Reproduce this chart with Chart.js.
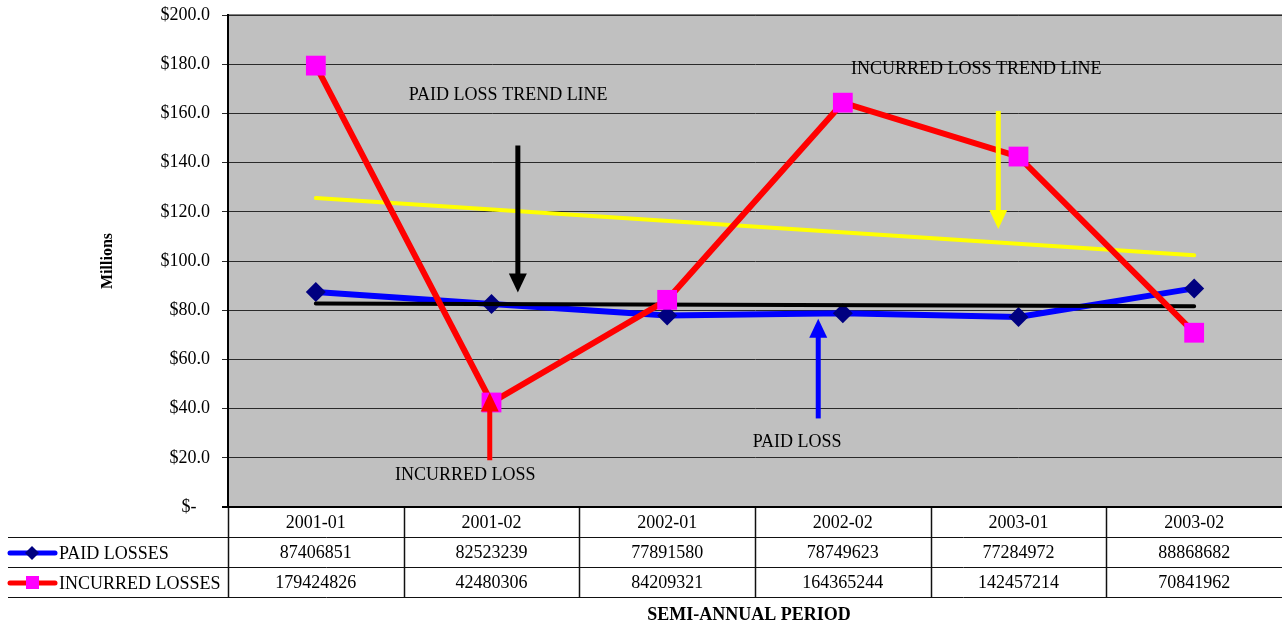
<!DOCTYPE html>
<html>
<head>
<meta charset="utf-8">
<script src="https://cdn.jsdelivr.net/npm/chart.js@4/dist/chart.umd.min.js"></script>
<style>
  html, body { margin: 0; padding: 0; background: #fff; overflow: hidden; }
  #lossChart { display: block; }
</style>
</head>
<body>
<canvas id="lossChart" width="1282" height="627"></canvas>
<script>
(function () {
  "use strict";

  // periods and raw table values
  const PERIODS = ["2001-01", "2001-02", "2002-01", "2002-02", "2003-01", "2003-02"];
  const PAID_LOSSES = [87406851, 82523239, 77891580, 78749623, 77284972, 88868682];
  const INCURRED_LOSSES = [179424826, 42480306, 84209321, 164365244, 142457214, 70841962];
  // trend lines (millions), endpoints only
  const PAID_TREND = [82.7, null, null, null, null, 81.6];
  const INCURRED_TREND = [125.6, null, null, null, null, 102.3];
  const Y_TICKS = [0, 20, 40, 60, 80, 100, 120, 140, 160, 180, 200];

  const SERIF = "'Liberation Serif', 'Times New Roman', serif";
  const toMillions = (arr) => arr.map((v) => v / 1e6);

  // callouts: [text, category position, value]
  const NOTES = [
    ["PAID LOSS TREND LINE", 1.095, 167.2],
    ["INCURRED LOSS TREND LINE", 3.76, 178.0],
    ["PAID LOSS", 2.74, 26.4],
    ["INCURRED LOSS", 0.85, 13.0]
  ];
  // arrows: [colour, category position, from value, to value (tip)]
  const ARROWS = [
    ["#000000", 1.15, 147.0, 87.2],
    ["#ffff00", 3.885, 161.0, 113.0],
    ["#0000ff", 2.86, 36.0, 76.5],
    ["#ff0000", 0.99, 19.0, 46.5]
  ];

  const noPad = (s) => { s.paddingTop = 0; s.paddingBottom = 0; s.paddingLeft = 0; s.paddingRight = 0; };

  const plotBg = {
    id: "plotBg",
    beforeDraw(chart) {
      const a = chart.chartArea, c = chart.ctx;
      c.save();
      c.fillStyle = "#c0c0c0";
      c.fillRect(a.left, a.top, a.right - a.left, a.bottom - a.top);
      c.fillStyle = "#808080";
      c.fillRect(a.left, a.top - 1, a.right - a.left, 2);
      c.restore();
    }
  };

  function xAt(chart, pos) {
    const xs = chart.scales.x;
    const p0 = xs.getPixelForValue(0), p1 = xs.getPixelForValue(1);
    return p0 + (p1 - p0) * pos;
  }

  const extras = {
    id: "extras",
    afterDatasetsDraw(chart) {
      const c = chart.ctx, ys = chart.scales.y;
      c.save();
      // arrows
      ARROWS.forEach(([col, pos, from, to]) => {
        const x = xAt(chart, pos);
        const y0 = ys.getPixelForValue(from), y1 = ys.getPixelForValue(to);
        const dir = y1 > y0 ? 1 : -1;
        c.strokeStyle = col; c.fillStyle = col; c.lineWidth = 5;
        c.beginPath(); c.moveTo(x, y0); c.lineTo(x, y1 - dir * 16); c.stroke();
        c.beginPath();
        c.moveTo(x, y1);
        c.lineTo(x - 9, y1 - dir * 19);
        c.lineTo(x + 9, y1 - dir * 19);
        c.closePath(); c.fill();
      });
      // callout texts
      c.fillStyle = "#000";
      c.font = "18px " + SERIF;
      c.textAlign = "center"; c.textBaseline = "middle";
      NOTES.forEach(([t, pos, v]) => c.fillText(t, xAt(chart, pos), ys.getPixelForValue(v)));
      c.restore();
    },
    afterDraw(chart) {
      const c = chart.ctx, a = chart.chartArea, xs = chart.scales.x;
      const step = xs.getPixelForValue(1) - xs.getPixelForValue(0);
      const top = a.bottom, rowH = 30;
      c.save();
      c.strokeStyle = "#111"; c.lineWidth = 1;
      // horizontal rules
      [1, 2, 3].forEach((r) => {
        const y = Math.round(top + r * rowH) + 0.5;
        c.beginPath(); c.moveTo(8, y); c.lineTo(a.right, y); c.stroke();
      });
      // vertical rules (the table runs off the right edge)
      c.lineWidth = 1.5;
      for (let i = 0; i < PERIODS.length; i++) {
        const x = Math.round(a.left + i * step) + 0.5;
        c.beginPath(); c.moveTo(x, top); c.lineTo(x, top + 3 * rowH); c.stroke();
      }
      // axis base line
      c.strokeStyle = "#000"; c.lineWidth = 2;
      c.beginPath(); c.moveTo(a.left - 6, top); c.lineTo(a.right, top); c.stroke();

      c.fillStyle = "#000";
      c.font = "18px " + SERIF;
      c.textAlign = "center"; c.textBaseline = "middle";
      PERIODS.forEach((p, i) => {
        const x = xs.getPixelForValue(i);
        c.fillText(p, x, top + rowH * 0.5 + 1);
        c.fillText(String(PAID_LOSSES[i]), x, top + rowH * 1.5 + 1);
        c.fillText(String(INCURRED_LOSSES[i]), x, top + rowH * 2.5 + 1);
      });

      // legend keys
      const k1 = top + rowH * 1.5 + 1, k2 = top + rowH * 2.5 + 1;
      c.lineCap = "round"; c.lineWidth = 5;
      c.strokeStyle = "#0000ff";
      c.beginPath(); c.moveTo(10, k1); c.lineTo(55, k1); c.stroke();
      c.fillStyle = "#000080";
      c.beginPath(); c.moveTo(32, k1 - 7); c.lineTo(39, k1); c.lineTo(32, k1 + 7); c.lineTo(25, k1); c.closePath(); c.fill();
      c.strokeStyle = "#ff0000";
      c.beginPath(); c.moveTo(10, k2); c.lineTo(55, k2); c.stroke();
      c.fillStyle = "#ff00ff";
      c.fillRect(26, k2 - 7, 13, 13);

      c.fillStyle = "#000";
      c.textAlign = "left";
      c.fillText("PAID LOSSES", 59, k1 + 1);
      c.fillText("INCURRED LOSSES", 59, k2 + 1);

      c.font = "bold 18px " + SERIF;
      c.textAlign = "center";
      c.fillText("SEMI-ANNUAL PERIOD", 749, 615);
      c.restore();
    }
  };

  new Chart(document.getElementById("lossChart"), {
    type: "line",
    data: {
      labels: PERIODS,
      datasets: [
        {
          label: "PAID LOSSES",
          data: toMillions(PAID_LOSSES),
          borderColor: "#0000ff",
          borderWidth: 6,
          pointStyle: "rectRot",
          pointRadius: 10,
          pointBackgroundColor: "#000080",
          pointBorderWidth: 0,
          order: 4
        },
        {
          label: "PAID TREND",
          data: PAID_TREND,
          spanGaps: true,
          borderColor: "#000000",
          borderWidth: 4,
          borderCapStyle: "round",
          pointRadius: 0,
          order: 3
        },
        {
          label: "INCURRED TREND",
          data: INCURRED_TREND,
          spanGaps: true,
          borderColor: "#ffff00",
          borderWidth: 4,
          borderCapStyle: "round",
          pointRadius: 0,
          order: 2
        },
        {
          label: "INCURRED LOSSES",
          data: toMillions(INCURRED_LOSSES),
          borderColor: "#ff0000",
          borderWidth: 6,
          pointStyle: "rect",
          pointRadius: 14,
          pointBackgroundColor: "#ff00ff",
          pointBorderWidth: 0,
          order: 1
        }
      ]
    },
    options: {
      responsive: false,
      animation: false,
      devicePixelRatio: 1,
      layout: { autoPadding: false, padding: { top: 15, right: 0, bottom: 0, left: 0 } },
      plugins: { legend: { display: false }, tooltip: { enabled: false } },
      scales: {
        x: {
          type: "category",
          offset: true,
          grid: { display: false },
          border: { display: false },
          ticks: { display: false },
          afterFit(s) { s.height = 120; noPad(s); }
        },
        y: {
          min: 0, max: 200,
          afterBuildTicks(s) { s.ticks = Y_TICKS.map((v) => ({ value: v })); },
          afterFit(s) { s.width = 228; noPad(s); },
          grid: { color: "#2a2a2a", lineWidth: 1, tickLength: 6, drawOnChartArea: true },
          border: { display: true, color: "#000", width: 2 },
          ticks: {
            color: "#000",
            padding: 12,
            font: { family: SERIF, size: 18 },
            callback: (v) => (v === 0 ? "$-   " : "$" + v.toFixed(1))
          },
          title: {
            display: true,
            text: "Millions",
            color: "#000",
            font: { family: SERIF, size: 16, weight: "bold" },
            padding: { top: 98, bottom: 0 }
          }
        }
      }
    },
    plugins: [plotBg, extras]
  });
})();
</script>
</body>
</html>
